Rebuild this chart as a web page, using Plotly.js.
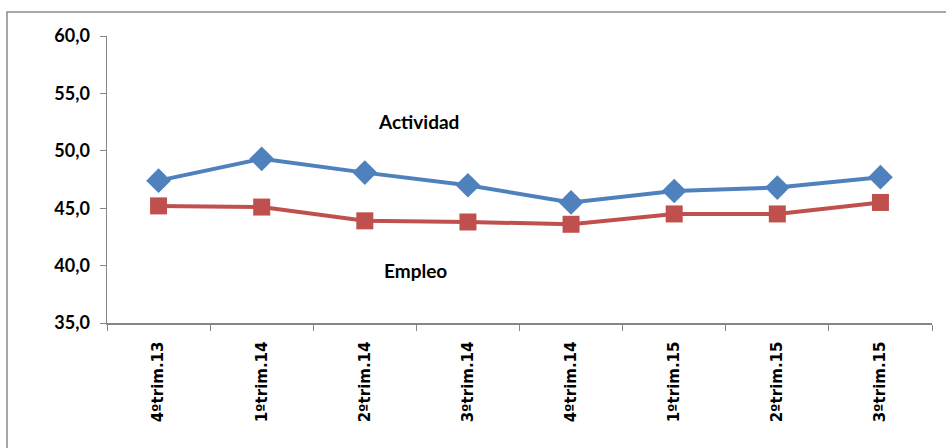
<!DOCTYPE html>
<html>
<head>
<meta charset="utf-8">
<script src="https://cdn.plot.ly/plotly-3.0.1.min.js"></script>
<style>html,body{margin:0;padding:0;background:#fff;}</style>
</head>
<body>
<div id="chart" style="width:946px;height:448px;"></div>
<script>
const categories = ["4ºtrim.13","1ºtrim.14","2ºtrim.14","3ºtrim.14","4ºtrim.14","1ºtrim.15","2ºtrim.15","3ºtrim.15"];
const actividad = [47.4, 49.3, 48.1, 47.0, 45.5, 46.5, 46.8, 47.7];
const empleo = [45.2, 45.1, 43.9, 43.8, 43.6, 44.5, 44.5, 45.5];

const fontFam = "Lato, 'Liberation Sans', Arial, sans-serif";
const xFont = "DejaVu Sans";
const traces = [
  {x: categories, y: actividad, type: "scatter", mode: "lines+markers", name: "Actividad",
   line: {color: "#4F81BD", width: 4}, marker: {symbol: "diamond", size: 19, color: "#4F81BD"}},
  {x: categories, y: empleo, type: "scatter", mode: "lines+markers", name: "Empleo",
   line: {color: "#C0504D", width: 4}, marker: {symbol: "square", size: 17, color: "#C0504D"}}
];
const layout = {
  width: 946, height: 448,
  margin: {l: 107, r: 14, t: 36, b: 125},
  paper_bgcolor: "#fff", plot_bgcolor: "#fff",
  showlegend: false,
  separators: ",.",
  font: {family: fontFam, color: "#000"},
  xaxis: {
    type: "category", tickson: "boundaries", ticks: "outside", ticklen: 6, tickcolor: "#868686",
    showline: true, linecolor: "#868686", linewidth: 1.5, showgrid: false, zeroline: false,
    tickangle: -90, tickfont: {size: 15, family: xFont, weight: "bold", color: "#000"},
    ticklabelstandoff: 11,
    range: [-0.5, 7.5]
  },
  yaxis: {
    range: [35, 60], dtick: 5, tick0: 35, tickformat: ".1f",
    ticks: "outside", ticklen: 6, tickcolor: "#868686",
    showline: true, linecolor: "#868686", linewidth: 1.5, showgrid: false, zeroline: false,
    tickfont: {size: 18, family: fontFam, weight: "bold"}, ticklabelstandoff: 6
  },
  annotations: [
    {xref: "paper", yref: "paper", x: (418-107)/825, y: (323-121)/287, xanchor: "center", yanchor: "middle",
     text: "<b>Actividad</b>", showarrow: false, font: {size: 19, family: fontFam, color: "#000"}},
    {xref: "paper", yref: "paper", x: (415-107)/825, y: (323-270)/287, xanchor: "center", yanchor: "middle",
     text: "<b>Empleo</b>", showarrow: false, font: {size: 19, family: fontFam, color: "#000"}}
  ],
  shapes: [
    {type: "rect", xref: "paper", yref: "paper", x0: (7-107)/825, x1: (960-107)/825,
     y0: (323-460)/287, y1: (323-12)/287, line: {color: "#8c8c8c", width: 1.5}, layer: "below"}
  ]
};
Plotly.newPlot("chart", traces, layout, {displayModeBar: false, staticPlot: true});
</script>
</body>
</html>
